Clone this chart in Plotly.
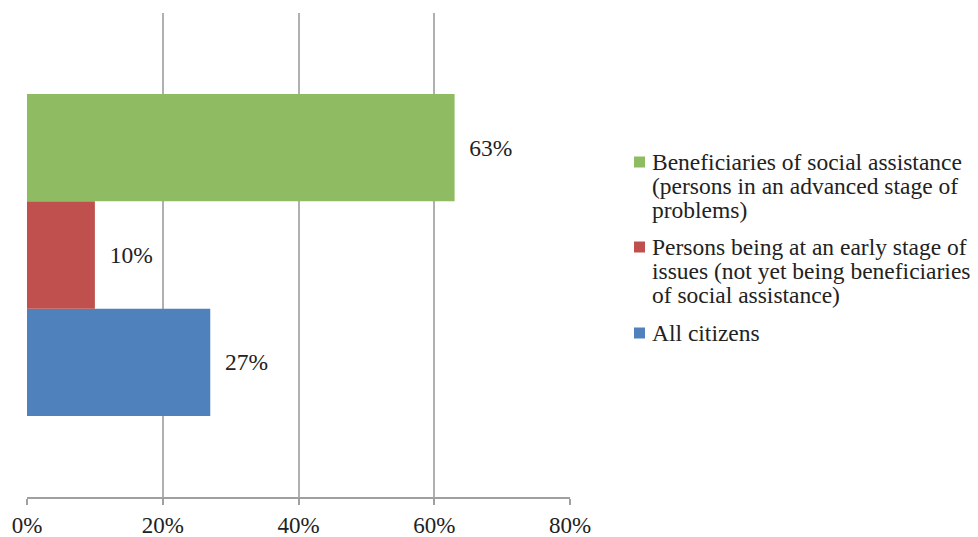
import plotly.graph_objects as go

categories = ["Group"]
series_names = [
    "All citizens",
    "Persons being at an early stage of issues (not yet being beneficiaries of social assistance)",
    "Beneficiaries of social assistance (persons in an advanced stage of problems)",
]
legend_lines = [
    ["All citizens"],
    ["Persons being at an early stage of", "issues (not yet being beneficiaries", "of social assistance)"],
    ["Beneficiaries of social assistance", "(persons in an advanced stage of", "problems)"],
]
series_values = [27, 10, 63]
series_colors = ["#4f81bd", "#c0504d", "#8fbc63"]
tick_vals = [0, 20, 40, 60, 80]
tick_text = ["0%", "20%", "40%", "60%", "80%"]

FONT = "Liberation Serif, Times New Roman, serif"
TXT = "#222222"

W, H = 978, 537
L, R, T, B = 27, 408, 13, 40
PW, PH = W - L - R, H - T - B

def px_x(px):
    return (px - L) / PW

def px_y(py):
    return (H - B - py) / PH

fig = go.Figure()
for name, val, col in zip(series_names, series_values, series_colors):
    fig.add_trace(go.Bar(
        y=categories, x=[val], name=name, orientation="h",
        marker=dict(color=col, line=dict(width=0)),
        text=["\u2002" + f"{val}%"], textposition="outside",
        textfont=dict(family=FONT, size=23.5, color=TXT),
        cliponaxis=False, showlegend=False,
    ))

# Legend drawn beside the plot (top entry first: green, red, blue)
legend_order = [2, 1, 0]
first_line_y = [162, 247, 333]
line_step = 24
text_x = 650
for idx, y0 in zip(legend_order, first_line_y):
    fig.add_shape(
        type="rect", xref="paper", yref="paper",
        x0=px_x(634), x1=px_x(645), y0=px_y(y0 - 5.5), y1=px_y(y0 + 5.5),
        fillcolor=series_colors[idx], line=dict(width=0),
    )
    for k, line in enumerate(legend_lines[idx]):
        fig.add_annotation(
            xref="paper", yref="paper", x=px_x(text_x), y=px_y(y0 + k * line_step),
            text=line, showarrow=False, xanchor="left", yanchor="middle",
            font=dict(family=FONT, size=23.5, color=TXT),
        )

fig.update_layout(
    width=W, height=H,
    margin=dict(l=L, r=R, t=T, b=B, autoexpand=False),
    paper_bgcolor="white", plot_bgcolor="white",
    barmode="group", bargap=0.335, bargroupgap=0,
    font=dict(family=FONT, size=23.5, color=TXT),
    showlegend=False,
)
fig.update_xaxes(
    range=[0, 80], tickvals=tick_vals, ticktext=tick_text,
    showgrid=True, gridcolor="#b0b0b0", gridwidth=1.5,
    zeroline=False, automargin=False,
    showline=True, linecolor="#a0a0a0", linewidth=1.5,
    ticks="outside", ticklen=6, tickcolor="#a0a0a0", tickwidth=1.5,
    ticklabelstandoff=1,
    tickfont=dict(family=FONT, size=23, color=TXT),
)
fig.update_yaxes(showticklabels=False, showgrid=False, zeroline=False,
                 showline=False, automargin=False)

fig.write_html("out.html")
